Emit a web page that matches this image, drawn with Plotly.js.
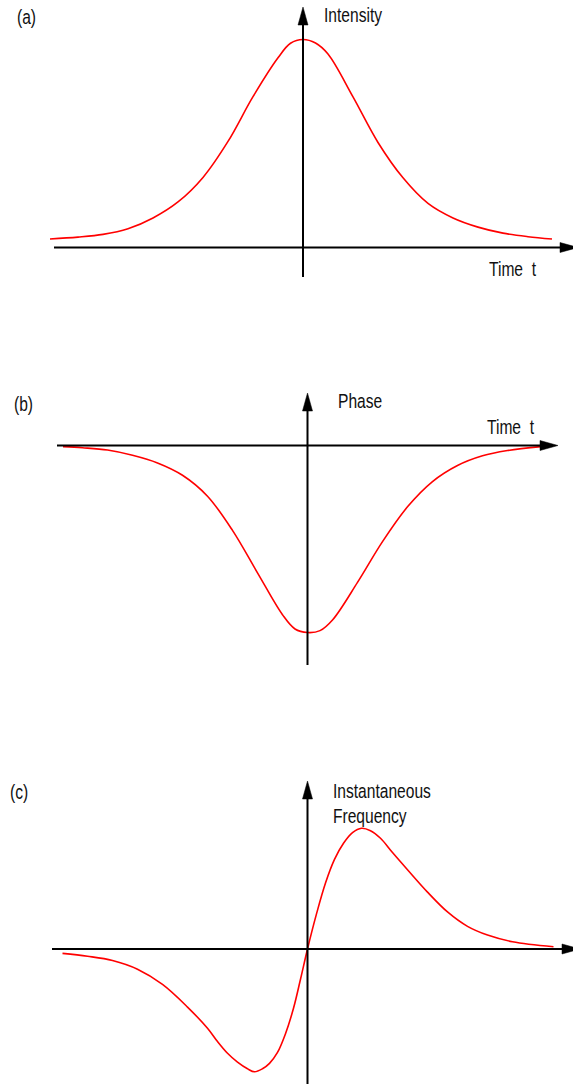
<!DOCTYPE html>
<html>
<head>
<meta charset="utf-8">
<script src="https://cdn.plot.ly/plotly-3.0.1.min.js"></script>
<style>
  html, body { margin: 0; padding: 0; background: #ffffff; }
  #plot { width: 573px; height: 1084px; }
  /* narrow lettering for the labels */
  #plot .annotation-text {
    transform-box: fill-box;
    transform-origin: 0% 50%;
    transform: scaleX(0.8);
  }
</style>
</head>
<body>
<div id="plot"></div>
<script>
// (a) pulse intensity, normalised to its peak, against time
const timeA = [-2.53, -2.25, -2.0, -1.75, -1.5, -1.25, -1.0, -0.75, -0.5, -0.25, -0.125, 0.0,
               0.125, 0.25, 0.5, 0.75, 1.0, 1.25, 1.5, 1.75, 2.0, 2.25, 2.49];
const intensityA = [0.041, 0.050, 0.063, 0.090, 0.142, 0.219, 0.337, 0.51, 0.725, 0.912, 0.982, 1.0,
                    0.983, 0.93, 0.724, 0.505, 0.335, 0.212, 0.142, 0.098, 0.069, 0.052, 0.041];

// (b) phase, normalised to its minimum
const timeB = [-2.445, -2.25, -2.0, -1.75, -1.5, -1.25, -1.0, -0.75, -0.5, -0.25, -0.125, 0.0,
               0.125, 0.25, 0.5, 0.75, 1.0, 1.25, 1.5, 1.75, 2.0, 2.335];
const phaseB = [-0.006, -0.012, -0.024, -0.052, -0.093, -0.159, -0.271, -0.454, -0.681, -0.905, -0.981, -1.0,
                -0.99, -0.933, -0.732, -0.514, -0.328, -0.193, -0.107, -0.055, -0.027, -0.006];

// (c) instantaneous frequency, normalised to its maximum
const timeC = [-2.45, -2.2, -1.95, -1.7, -1.45, -1.2, -1.0, -0.9, -0.8, -0.7, -0.6, -0.53, -0.45, -0.38, -0.3,
               -0.22, -0.14, -0.07, 0.0, 0.09, 0.18, 0.27, 0.36, 0.45, 0.54, 0.63, 0.73, 0.85, 1.0, 1.2, 1.4,
               1.6, 1.8, 2.05, 2.46];
const freqC = [-0.036, -0.06, -0.095, -0.167, -0.293, -0.48, -0.655, -0.765, -0.862, -0.935, -0.99, -1.015, -0.99, -0.945, -0.855,
               -0.70, -0.49, -0.25, 0.0, 0.29, 0.545, 0.74, 0.874, 0.962, 0.998, 0.978, 0.915, 0.797, 0.655, 0.47, 0.306,
               0.187, 0.115, 0.06, 0.019];

// Text drawn on the figure
const panelTags = ['(a)', '(b)', '(c)'];
const yAxisNames = ['Intensity', 'Phase', 'Instantaneous<br>Frequency'];
const xAxisName = 'Time\u00a0\u00a0t';

const W = 573, H = 1084;
const FONT = 'Liberation Sans, Arial, Helvetica, sans-serif';

// Each panel: origin in page pixels and pixels per data unit
const frames = [
  { ox: 303.0, oy: 247.5, sx: 100, sy: 208 },
  { ox: 307.5, oy: 445.5, sx: 100, sy: 187 },
  { ox: 307.5, oy: 949.0, sx: 100, sy: 121 }
];

const px = x => x / W;
const py = y => 1 - y / H;

function xRange(f) { return [-f.ox / f.sx, (W - f.ox) / f.sx]; }
function yRange(f) { return [-(H - f.oy) / f.sy, f.oy / f.sy]; }

function axisLine(x0, y0, x1, y1) {
  return { type: 'line', xref: 'paper', yref: 'paper',
           x0: px(x0), y0: py(y0), x1: px(x1), y1: py(y1),
           line: { color: '#000000', width: 2 } };
}

// filled triangular arrow head; dir = 'up' or 'right'
function arrowHead(tx, ty, dir) {
  const len = 18, half = 5;
  let pts;
  if (dir === 'up') pts = [[tx, ty], [tx - half, ty + len], [tx + half, ty + len]];
  else pts = [[tx, ty], [tx - len, ty - half], [tx - len, ty + half]];
  const d = 'M' + pts.map(p => px(p[0]) + ',' + py(p[1])).join(' L') + ' Z';
  return { type: 'path', xref: 'paper', yref: 'paper', path: d,
           fillcolor: '#000000', line: { color: '#000000', width: 0.5 } };
}

// axis extents in page pixels
const axes = [
  { hx0: 54, hx1: 565, htip: 578, vy0: 277, vtip: 7 },
  { hx0: 57, hx1: 545, htip: 558, vy0: 665, vtip: 393 },
  { hx0: 52, hx1: 567, htip: 580, vy0: 1084, vtip: 781 }
];

const shapes = [];
frames.forEach((f, i) => {
  const a = axes[i];
  shapes.push(axisLine(a.hx0, f.oy, a.hx1, f.oy));
  shapes.push(axisLine(f.ox, a.vy0, f.ox, a.vtip + 12));
  shapes.push(arrowHead(a.htip, f.oy, 'right'));
  shapes.push(arrowHead(f.ox, a.vtip, 'up'));
});

function label(text, x, y) {
  return { text: text, xref: 'paper', yref: 'paper', x: px(x), y: py(y),
           xanchor: 'left', yanchor: 'middle', align: 'left', showarrow: false,
           font: { family: FONT, size: 19.5, color: '#111111' } };
}

const annotations = [
  label(panelTags[0], 15, 17),
  label(panelTags[1], 12, 404),
  label(panelTags[2], 8, 792),
  label(yAxisNames[0], 322, 15),
  label(yAxisNames[1], 336, 401),
  label(yAxisNames[2], 331, 803),
  label(xAxisName, 487, 269),
  label(xAxisName, 485, 427)
];

const curveStyle = { color: '#ff0000', width: 1.6, shape: 'spline', smoothing: 1 };
const traces = [
  { x: timeA, y: intensityA, xaxis: 'x', yaxis: 'y' },
  { x: timeB, y: phaseB, xaxis: 'x2', yaxis: 'y2' },
  { x: timeC, y: freqC, xaxis: 'x3', yaxis: 'y3' }
].map(t => Object.assign(t, { type: 'scatter', mode: 'lines', line: curveStyle, hoverinfo: 'skip' }));

const hidden = { visible: false, fixedrange: true, domain: [0, 1] };
const layout = {
  width: W, height: H,
  margin: { l: 0, r: 0, t: 0, b: 0, pad: 0 },
  paper_bgcolor: '#ffffff', plot_bgcolor: 'rgba(0,0,0,0)',
  showlegend: false,
  xaxis:  Object.assign({}, hidden, { range: xRange(frames[0]), anchor: 'y' }),
  yaxis:  Object.assign({}, hidden, { range: yRange(frames[0]), anchor: 'x' }),
  xaxis2: Object.assign({}, hidden, { range: xRange(frames[1]), anchor: 'y2' }),
  yaxis2: Object.assign({}, hidden, { range: yRange(frames[1]), anchor: 'x2' }),
  xaxis3: Object.assign({}, hidden, { range: xRange(frames[2]), anchor: 'y3' }),
  yaxis3: Object.assign({}, hidden, { range: yRange(frames[2]), anchor: 'x3' }),
  shapes: shapes,
  annotations: annotations
};

Plotly.newPlot('plot', traces, layout, { staticPlot: true, displayModeBar: false });
</script>
</body>
</html>
